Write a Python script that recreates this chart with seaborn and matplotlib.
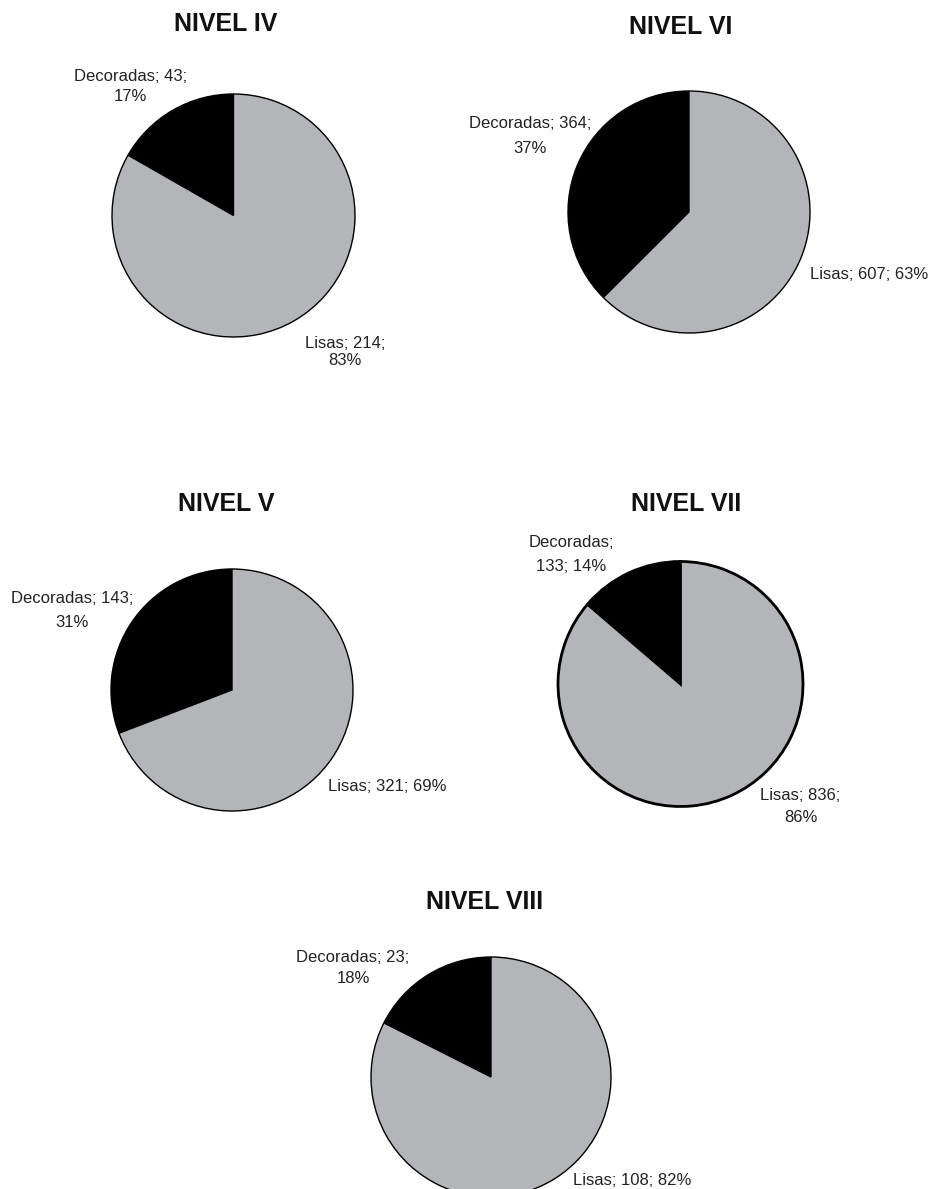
import matplotlib
matplotlib.use('Agg')
import matplotlib.pyplot as plt
import seaborn as sns

sns.set_theme(style='white')
plt.rcParams['font.family'] = ['Liberation Sans', 'DejaVu Sans']

# data
niveles = ['NIVEL IV', 'NIVEL VI', 'NIVEL V', 'NIVEL VII', 'NIVEL VIII']
categorias = ['Decoradas', 'Lisas']
decoradas = [43, 364, 143, 133, 23]
lisas = [214, 607, 321, 836, 108]
porcentajes_dec = [17, 37, 31, 14, 18]
porcentajes_lis = [83, 63, 69, 86, 82]

# label text layout (line break position differs per pie, as in the original)
fmt_dec = ['{c}; {n};\n{p}%', '{c}; {n};\n{p}%', '{c}; {n};\n{p}%', '{c};\n{n}; {p}%', '{c}; {n};\n{p}%']
fmt_lis = ['{c}; {n};\n{p}%', '{c}; {n}; {p}%', '{c}; {n}; {p}%', '{c}; {n};\n{p}%', '{c}; {n}; {p}%']

# layout in pixels: pie centre, radius, title position, label offsets (in radii)
W, H = 929, 1189
centros = [(233.5, 215.5), (689, 212), (232, 690), (680.5, 684), (491, 1077)]
radios = [121.5, 121, 121, 122.5, 120]
titulos = [(226, 24), (681, 27), (226, 504), (686, 504), (485, 902)]
pos_dec = [(-0.85, 1.06), (-1.31, 0.63), (-1.32, 0.66), (-0.89, 1.06), (-1.15, 0.91)]
pos_lis = [(0.92, -1.12), (1.49, -0.52), (1.28, -0.80), (0.98, -1.00), (1.18, -0.86)]
esp_dec = [1.45, 1.87, 1.73, 1.73, 1.52]
esp_lis = [1.18, 1.2, 1.2, 1.66, 1.2]
bordes = [1.0, 1.0, 1.0, 2.0, 1.0]

colores = sns.color_palette(['#000000', '#b4b5b9'])

fig = plt.figure(figsize=(W / 100, H / 100), dpi=100)

for i, nivel in enumerate(niveles):
    cx, cy = centros[i]
    r = radios[i]
    ax = fig.add_axes([(cx - r) / W, (H - cy - r) / H, 2 * r / W, 2 * r / H])
    ax.pie([decoradas[i], lisas[i]], colors=colores, startangle=90,
           counterclock=True, radius=1,
           wedgeprops={'edgecolor': 'black', 'linewidth': bordes[i]})
    ax.set_xlim(-1, 1)
    ax.set_ylim(-1, 1)
    ax.set_aspect('equal')
    ax.axis('off')

    t_dec = fmt_dec[i].format(c=categorias[0], n=decoradas[i], p=porcentajes_dec[i])
    t_lis = fmt_lis[i].format(c=categorias[1], n=lisas[i], p=porcentajes_lis[i])
    ax.text(pos_dec[i][0], pos_dec[i][1], t_dec, ha='center', va='center',
            fontsize=12, color='#222222', linespacing=esp_dec[i], clip_on=False)
    ax.text(pos_lis[i][0], pos_lis[i][1], t_lis, ha='center', va='center',
            fontsize=12, color='#222222', linespacing=esp_lis[i], clip_on=False)

    tx, ty = titulos[i]
    fig.text(tx / W, 1 - ty / H, nivel, ha='center', va='center',
             fontsize=18, fontweight='bold', color='#111111')

fig.savefig('out.png', dpi=100, facecolor='white')
